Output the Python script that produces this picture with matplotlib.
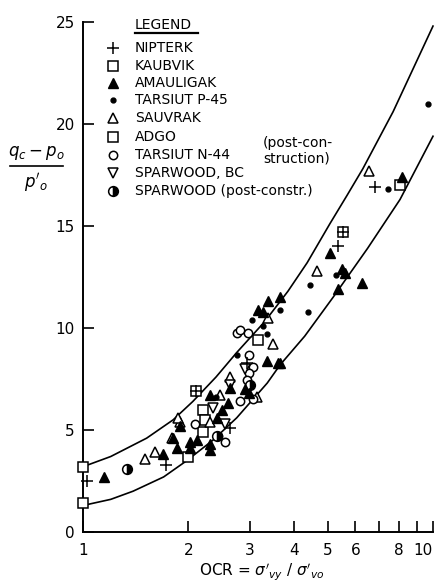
import matplotlib
matplotlib.use('Agg')
import matplotlib.pyplot as plt
import numpy as np
from matplotlib.lines import Line2D

# bounding curves
upper_ocr = [1.0, 1.2, 1.52, 1.81, 2.06, 2.4, 2.75, 3.3, 3.85, 4.37, 5.07, 5.68, 6.3, 7.69, 10.0]
upper_q = [3.2, 3.7, 4.6, 5.5, 6.4, 7.6, 8.8, 10.3, 11.8, 13.2, 15.1, 16.5, 17.8, 20.6, 24.8]
lower_ocr = [1.0, 1.2, 1.39, 1.7, 1.98, 2.35, 2.75, 3.36, 3.66, 4.3, 5.18, 6.5, 8.05, 10.0]
lower_q = [1.3, 1.6, 2.0, 2.7, 3.5, 4.5, 5.6, 7.3, 8.2, 9.6, 11.5, 13.9, 16.3, 19.4]

# sites
nipterk_ocr = [1.03, 1.73, 2.63, 2.94, 5.35, 6.83, 2.10, 5.53]
nipterk_q = [2.5, 3.3, 5.1, 8.3, 14.0, 16.9, 6.9, 14.7]

kaubvik_ocr = [1.0, 1.0, 1.99, 2.20, 2.23, 2.20]
kaubvik_q = [3.2, 1.4, 3.7, 6.0, 5.5, 4.9]

amauligak_ocr = [1.15, 1.69, 1.86, 1.89, 2.02, 2.12, 1.81, 2.02, 2.30, 2.31, 2.30, 2.41, 2.49, 2.60,
                 2.63, 2.90, 2.99, 3.36, 3.61, 3.16, 3.27, 3.38, 3.66, 5.07, 5.49, 5.60, 5.35, 6.28,
                 8.15, 3.66]
amauligak_q = [2.7, 3.8, 4.1, 5.2, 4.1, 4.5, 4.6, 4.4, 4.3, 4.0, 6.7, 5.6, 6.0, 6.3,
               7.05, 7.0, 6.8, 8.4, 8.3, 10.9, 10.8, 11.3, 11.5, 13.7, 12.9, 12.7, 11.9, 12.2,
               17.4, 8.3]

tarsiut_p45_ocr = [2.75, 3.36, 3.04, 3.27, 3.66, 4.39, 4.45, 5.28, 7.44, 9.67, 2.40]
tarsiut_p45_q = [8.7, 9.7, 10.4, 10.1, 10.9, 10.8, 12.1, 12.6, 16.8, 21.0, 6.6]

sauvrak_ocr = [1.50, 1.61, 1.80, 1.89, 1.87, 2.46, 3.14, 3.49, 3.38, 4.66, 6.56, 2.63, 2.30]
sauvrak_q = [3.6, 3.9, 4.6, 5.4, 5.6, 6.7, 6.6, 9.2, 10.5, 12.8, 17.7, 7.6, 5.4]

adgo_ocr = [2.10, 5.53, 8.04, 3.16]
adgo_q = [6.9, 14.7, 17.0, 9.4]

tarsiut_n44_ocr = [2.09, 2.43, 2.76, 2.96, 2.81, 3.06, 2.99, 2.94, 2.81, 2.99, 3.05, 2.55]
tarsiut_n44_q = [5.3, 4.7, 9.75, 9.75, 9.9, 8.1, 7.8, 7.45, 6.4, 8.7, 6.5, 4.4]

sparwood_ocr = [2.35, 2.63, 2.55, 2.90]
sparwood_q = [6.1, 7.2, 5.3, 8.0]

sparwood_post_ocr = [1.34, 2.41, 3.00]
sparwood_post_q = [3.1, 4.7, 7.2]

legend_labels = ["NIPTERK", "KAUBVIK", "AMAULIGAK", "TARSIUT P-45", "SAUVRAK", "ADGO",
                 "TARSIUT N-44", "SPARWOOD, BC", "SPARWOOD (post-constr.)"]

W, H = 437, 586
fig = plt.figure(figsize=(W / 100, H / 100), dpi=100)
ax = fig.add_axes([83 / W, 1 - 532 / H, 350 / W, 510 / H])

# marker styles per site
styles = [
    dict(marker='+', color='k', ms=8, mew=1.1, ls='none'),
    dict(marker='s', mfc='white', mec='k', ms=7, mew=1.1, ls='none'),
    dict(marker='^', mfc='k', mec='k', ms=7, ls='none'),
    dict(marker='o', mfc='k', mec='k', ms=3.5, ls='none'),
    dict(marker='^', mfc='white', mec='k', ms=7, mew=1.1, ls='none'),
    dict(marker='s', mfc='white', mec='k', ms=7, mew=1.1, ls='none'),
    dict(marker='o', mfc='white', mec='k', ms=6, mew=1.1, ls='none'),
    dict(marker='v', mfc='white', mec='k', ms=7, mew=1.1, ls='none'),
    dict(marker='o', mfc='k', mec='k', ms=7, mew=1.1, ls='none', fillstyle='right', markerfacecoloralt='white'),
]
series = [
    (nipterk_ocr, nipterk_q), (kaubvik_ocr, kaubvik_q), (amauligak_ocr, amauligak_q),
    (tarsiut_p45_ocr, tarsiut_p45_q), (sauvrak_ocr, sauvrak_q), (adgo_ocr, adgo_q),
    (tarsiut_n44_ocr, tarsiut_n44_q), (sparwood_ocr, sparwood_q), (sparwood_post_ocr, sparwood_post_q),
]

ax.plot(upper_ocr, upper_q, color='k', lw=1.2, clip_on=False)
ax.plot(lower_ocr, lower_q, color='k', lw=1.2, clip_on=False)

# draw open symbols first, then crosses on top
order = [1, 5, 4, 6, 7, 8, 2, 3, 0]
for i in order:
    xs, ys = series[i]
    ax.plot(xs, ys, clip_on=False, zorder=3, **styles[i])

ax.set_xscale('log')
ax.set_xlim(1, 10)
ax.set_ylim(0, 25)
ax.spines['top'].set_visible(False)
ax.spines['right'].set_visible(False)
for s in ['left', 'bottom']:
    ax.spines[s].set_linewidth(1.4)

xt = [1, 2, 3, 4, 5, 6, 7, 8, 9, 10]
xl = ['1', '2', '3', '4', '5', '6', '', '8', '', '10']
ax.set_xticks(xt)
ax.set_xticklabels(xl)
ax.xaxis.set_minor_locator(matplotlib.ticker.NullLocator())
ax.set_yticks([0, 5, 10, 15, 20, 25])
ax.tick_params(direction='in', length=8, width=1.2, labelsize=11, pad=6)
ax.tick_params(axis='x', pad=8)
# keep the last label inside the figure
ax.get_xticklabels()[-1].set_horizontalalignment('right')

fig.text(262 / W, 1 - 572 / H, r"OCR = $\sigma'_{vy}$ / $\sigma'_{vo}$", fontsize=11,
         ha='center', va='center')

# y label as a stacked fraction
fig.text(36 / W, 1 - 153 / H, r"$q_c - p_o$", fontsize=12, ha='center', va='center')
fig.add_artist(Line2D([10 / W, 63 / W], [1 - 166 / H, 1 - 166 / H], color='k', lw=1.2))
fig.text(36 / W, 1 - 182 / H, r"$p'_o$", fontsize=12, ha='center', va='center')

# hand-made legend
fig.text(135 / W, 1 - 25 / H, "LEGEND", fontsize=10, ha='left', va='center')
fig.add_artist(Line2D([135 / W, 198 / W], [1 - 33 / H, 1 - 33 / H], color='k', lw=1.6))
row_y = [48, 66, 83, 100, 118, 137, 155, 173, 191]
for lab, st, y in zip(legend_labels, styles, row_y):
    fig.add_artist(Line2D([113 / W], [1 - y / H], **st))
    fig.text(135 / W, 1 - y / H, lab, fontsize=10, ha='left', va='center')
fig.text(263 / W, 1 - 143 / H, "(post-con-", fontsize=10, ha='left', va='center')
fig.text(263 / W, 1 - 159 / H, "struction)", fontsize=10, ha='left', va='center')

fig.savefig('out.png', dpi=100)
